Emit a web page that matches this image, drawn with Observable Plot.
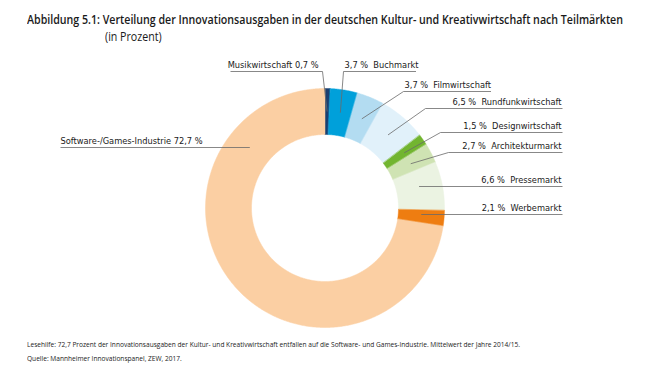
<!DOCTYPE html>
<html>
<head>
<meta charset="utf-8">
<script src="https://cdn.jsdelivr.net/npm/d3@7"></script>
<script src="https://cdn.jsdelivr.net/npm/@observablehq/plot@0.6"></script>
<style>
  body { margin: 0; background: #fff; }
  #wrap { position: relative; width: 664px; height: 378px; overflow: hidden; background: #fff; color: #1a1a1a; }
  .title { position: absolute; font-family: "Open Sans", sans-serif; font-size: 13px; font-weight: 600; line-height: 14px;
           white-space: nowrap; transform-origin: 0 0; }
  .cap { position: absolute; left: 27px; font-family: "Open Sans", sans-serif; font-size: 7.4px; line-height: 9px;
         white-space: nowrap; color: #222; transform-origin: 0 0; }
  #chart { position: absolute; left: 0; top: 50px; }
</style>
</head>
<body>
<div id="wrap">
  <div class="title" id="t1" style="left:27px; top:12px;">Abbildung 5.1: Verteilung der Innovationsausgaben in der deutschen Kultur- und Kreativwirtschaft nach Teilmärkten</div>
  <div class="title" id="t2" style="left:105px; top:29px; font-weight:500;">(in Prozent)</div>
  <div id="chart"></div>
  <div class="cap" id="c1" style="top:340px;">Lesehilfe: 72,7 Prozent der Innovationsausgaben der Kultur- und Kreativwirtschaft entfallen auf die Software- und Games-Industrie. Mittelwert der Jahre 2014/15.</div>
  <div class="cap" id="c2" style="top:354px;">Quelle: Mannheimer Innovationspanel, ZEW, 2017.</div>
</div>
<script>
// ---- data ----
const names = ["Musikwirtschaft", "Buchmarkt", "Filmwirtschaft", "Rundfunkwirtschaft", "Designwirtschaft",
               "Architekturmarkt", "Pressemarkt", "Werbemarkt", "Software-/Games-Industrie"];
const shares = [0.7, 3.7, 3.7, 6.5, 1.5, 2.7, 6.6, 2.1, 72.7];
const colors = ["#1b3f70", "#00a0da", "#b3dcf1", "#e1f1fa", "#72b530", "#cfe3b3", "#ebf3e2", "#ee7d11", "#fbcfa3"];

// ---- layout (label placement, in pixel units relative to the donut centre, y up) ----
const R_OUT = 119.5, R_IN = 73.5, R_MID = (R_OUT + R_IN) / 2;
const labelLayout = [
  {name: "Musikwirtschaft",          uy: 136.5, ux1: -94.5, ux2: -2.5,  anchor: "end",   leader: "angle", nameFirst: true,  pad: 4},
  {name: "Buchmarkt",                uy: 136.5, ux1: 18.5,  ux2: 91,    anchor: "start", leader: "angle", nameFirst: false, pad: 1},
  {name: "Filmwirtschaft",           uy: 116.5, ux1: 78.5,  ux2: 166,   anchor: "start", leader: "angle", nameFirst: false, pad: 1},
  {name: "Rundfunkwirtschaft",       uy: 99.5,  ux1: 100.5, ux2: 237.5, anchor: "end",   leader: "angle", nameFirst: false, pad: 1},
  {name: "Designwirtschaft",         uy: 75.5,  ux1: 115.5, ux2: 237.5, anchor: "end",   leader: "angle", nameFirst: false, pad: 1},
  {name: "Architekturmarkt",         uy: 55.5,  ux1: 123.5, ux2: 237.5, anchor: "end",   leader: "angle", nameFirst: false, pad: 1},
  {name: "Pressemarkt",              uy: 21.5,  ux1: null,  ux2: 237.5, anchor: "end",   leader: "flat",  nameFirst: false, pad: 1},
  {name: "Werbemarkt",               uy: -6.5,  ux1: null,  ux2: 237.5, anchor: "end",   leader: "flat",  nameFirst: false, pad: 1},
  {name: "Software-/Games-Industrie",uy: 60.5,  ux1: -264.5,ux2: null,  anchor: "start", leader: "flat",  nameFirst: true,  pad: 0}
];

// ---- build geometry through d3.pie ----
const slices = names.map((n, i) => ({name: n, share: shares[i], color: colors[i]}));
const arcs = d3.pie().sort(null).value(d => d.share)(slices);
const polys = arcs.flatMap(a => {
  const n = Math.max(3, Math.ceil((a.endAngle - a.startAngle) / (Math.PI / 360)));
  const pts = [];
  for (let k = 0; k <= n; k++) {
    const t = a.startAngle + (a.endAngle - a.startAngle) * k / n;
    pts.push({key: a.data.name, color: a.data.color, x: R_OUT * Math.sin(t), y: R_OUT * Math.cos(t)});
  }
  for (let k = n; k >= 0; k--) {
    const t = a.startAngle + (a.endAngle - a.startAngle) * k / n;
    pts.push({key: a.data.name, color: a.data.color, x: R_IN * Math.sin(t), y: R_IN * Math.cos(t)});
  }
  return pts;
});

const fmt = v => String(v).replace(".", ",");
const segments = [];
const labels = [];
labelLayout.forEach(L => {
  const a = arcs.find(d => d.data.name === L.name);
  let ux1 = L.ux1, ux2 = L.ux2;
  if (L.leader === "angle") {
    const m = (a.startAngle + a.endAngle) / 2;
    const ax = R_MID * Math.sin(m), ay = R_MID * Math.cos(m);
    const from = L.anchor === "end" && L.nameFirst ? ux2 : ux1;
    segments.push({x1: from, y1: L.uy, x2: ax, y2: ay});
  } else {
    const side = ux1 == null ? 1 : -1;
    const ax = side * Math.sqrt(R_MID * R_MID - L.uy * L.uy);
    if (ux1 == null) ux1 = ax; else ux2 = ax;
  }
  segments.push({x1: ux1, y1: L.uy, x2: ux2, y2: L.uy});
  const v = fmt(a.data.share) + " %";
  const text = L.nameFirst ? `${L.name} ${v}` : `${v}\u00a0 ${L.name}`;
  labels.push({text, anchor: L.anchor, x: L.anchor === "end" ? ux2 - L.pad : ux1 + L.pad, y: L.uy});
});

const font = "DejaVu Sans Condensed, Liberation Sans Narrow, sans-serif";
const chart = Plot.plot({
  width: 664, height: 280,
  marginLeft: 205, marginRight: 220, marginTop: 38, marginBottom: 3,
  x: {domain: [-R_OUT, R_OUT], axis: null},
  y: {domain: [-R_OUT, R_OUT], axis: null},
  color: {type: "identity"},
  marks: [
    Plot.line(polys, {x: "x", y: "y", z: "key", fill: "color", stroke: "color", strokeWidth: 0.5, curve: "linear-closed"}),
    Plot.link(segments, {x1: "x1", y1: "y1", x2: "x2", y2: "y2", stroke: "#6a6a6a", strokeWidth: 0.8}),
    Plot.text(labels.filter(d => d.anchor === "start"), {x: "x", y: "y", text: "text", textAnchor: "start", lineAnchor: "middle", dy: -6, fontSize: 9.2, fontFamily: font, fill: "#1a1a1a"}),
    Plot.text(labels.filter(d => d.anchor === "end"), {x: "x", y: "y", text: "text", textAnchor: "end", lineAnchor: "middle", dy: -6, fontSize: 9.2, fontFamily: font, fill: "#1a1a1a"})
  ]
});
document.getElementById("chart").appendChild(chart);

// fit condensed title / caption widths to the reference
function fit(id, target, refId) {
  const el = document.getElementById(id);
  const w = el.getBoundingClientRect().width;
  const s = target / w;
  el.style.transform = `scaleX(${s})`;
  return s;
}
const s1 = fit("t1", 596);
document.getElementById("t2").style.transform = `scaleX(${s1})`;
const s2 = fit("c1", 493);
document.getElementById("c2").style.transform = `scaleX(${s2})`;
</script>
</body>
</html>
